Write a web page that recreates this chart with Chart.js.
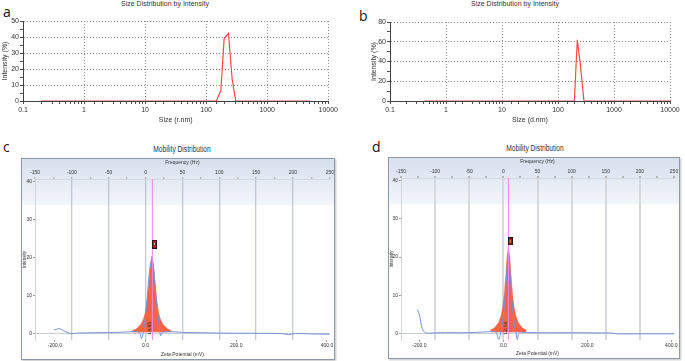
<!DOCTYPE html>
<html>
<head>
<meta charset="utf-8">
<script src="https://cdn.jsdelivr.net/npm/chart.js@4.4.1/dist/chart.umd.min.js"></script>
<style>
  body { margin: 0; width: 685px; height: 361px; background: #fff; position: relative; overflow: hidden; font-family: 'Liberation Sans', Arial, sans-serif; }
  .abs { position: absolute; }
  .letter { font-family: 'Open Sans', sans-serif; font-size: 14px; line-height: 14px; color: #111; }
  .dlsTitle { font-size: 7px; line-height: 8px; color: #333; text-align: center; width: 140px; }
  .mobTitle { font-family: 'Liberation Sans', Arial, sans-serif; font-size: 8.5px; line-height: 10px; color: #2b3344; text-align: center; width: 120px; transform: scaleX(0.78); }
  .frame { box-sizing: border-box; border: 1px solid #8d99aa; box-shadow: 1px 1px 2px rgba(0,0,0,0.25);
           background: linear-gradient(to bottom, #d7e0ee 0px, #e8edf5 28px, #f3f6fa 46px, #ffffff 47px); }
  canvas { position: absolute; }
</style>
</head>
<body>
<div class="abs letter" style="left:3px;top:5px">a</div>
<div class="abs letter" style="left:359px;top:9px">b</div>
<div class="abs letter" style="left:3px;top:140px">c</div>
<div class="abs letter" style="left:372px;top:140px">d</div>

<div class="abs dlsTitle" style="left:95px;top:0px">Size Distribution by Intensity</div>
<div class="abs dlsTitle" style="left:445px;top:0px">Size Distribution by Intensity</div>
<div class="abs mobTitle" style="left:122px;top:144px">Mobility Distribution</div>
<div class="abs mobTitle" style="left:475px;top:143px">Mobility Distribution</div>

<div class="abs frame" style="left:21px;top:158px;width:314px;height:202px"></div>
<div class="abs frame" style="left:388px;top:157px;width:292px;height:202px"></div>

<canvas id="chartA" width="340" height="130" style="left:0;top:0"></canvas>
<canvas id="chartB" width="340" height="130" style="left:345px;top:0"></canvas>
<canvas id="chartC" width="314" height="202" style="left:21px;top:158px"></canvas>
<canvas id="chartD" width="292" height="202" style="left:388px;top:157px"></canvas>

<script>
// ---- size distribution data (a: radius, b: diameter)
const sizeA = [0.2, 147, 174, 197, 232, 266, 305, 5000];
const intensityA = [0, 0, 6.5, 39, 42.3, 14, 0, 0];
const sizeB = [0.4, 196, 221, 247, 291, 10000];
const intensityB = [0, 0, 62, 40, 0, 0];

// ---- mobility distribution axes
const zetaMin = -243.75;
const zetaMax = 406.25;
const zetaTicks = [-200, 0, 200, 400];
const freqTicks = [-150, -125, -100, -75, -50, -25, 0, 25, 50, 75, 100, 125, 150, 175, 200, 225, 250];
const freqGrid = [-100, -50, 0, 50, 100, 150, 200];
const intensityTicks = [0, 10, 20, 30, 40];
const mobYMin = -1.6;
const mobYMax = 40.6;

// ---- c: fitted peak (red) and raw curve (blue)
const fitZetaC = [-30, -20, -10, -4, 0, 4, 8, 11, 14, 17, 20, 24, 28, 32, 38, 48, 56];
const fitIntC = [0.82, 1.34, 2.53, 4.1, 6.0, 9.2, 14.2, 18.5, 20.5, 18.5, 14.2, 9.2, 6.0, 4.1, 2.53, 1.34, 0.9];
const rawZetaC = [-202, -197, -190, -183, -175, -165, -150, -120, -80, -40, -20, -13, -9, -5, -2, 2, 6, 10, 14, 18, 22, 26, 30, 33, 36, 40, 50, 80, 120, 180, 250, 300, 315, 330, 360, 406];
const rawIntC = [1.0, 1.2, 1.4, 1.0, 0.5, 0.1, 0.2, 0.3, 0.35, 0.5, 0.6, 0.3, -1.2, 0.5, 3, 7.5, 13, 17.5, 19.5, 17, 11.5, 6.5, 2.5, -0.5, 0.2, 0.5, 0.6, 0.4, 0.3, 0.2, 0.15, 0.1, -0.2, 0.1, 0.0, -0.1];
const peakZetaC = 15;
const markerC = { x: 19.5, y: 23.5 };
const labelC = '14.95';

// ---- d: fitted peak (red) and raw curve (blue)
const fitZetaD = [-31, -21, -11, -5, -1, 3, 6, 9, 12, 15, 18, 21, 25, 29, 35, 45, 55];
const fitIntD = [0.95, 1.56, 2.99, 4.93, 7.3, 11.25, 15.6, 20.25, 22.5, 20.25, 15.6, 11.25, 7.3, 4.93, 2.99, 1.56, 0.95];
const rawZetaD = [-206, -203, -199, -195, -190, -184, -175, -150, -100, -60, -30, -18, -11, -6, -2, 2, 6, 9, 12, 15, 18, 22, 26, 30, 33, 37, 45, 80, 150, 220, 260, 270, 330, 406];
const rawIntD = [6.2, 6.0, 4.5, 2.0, 0.7, 0.2, 0.2, 0.3, 0.3, 0.4, 0.6, 0.5, -1.5, 0.5, 3, 7, 12.5, 17.5, 20.3, 17.5, 12.5, 6.5, 2.5, 0.2, -1.5, 0.3, 0.4, 0.3, 0.3, 0.25, 0.2, 0.0, 0.0, 0.0];
const peakZetaD = 12;
const markerD = { x: 16.5, y: 24.1 };
const labelD = '12.16';

Chart.defaults.font.family = "'Liberation Sans', Arial, sans-serif";
Chart.defaults.animation = false;

function toPoints(xs, ys) {
    return xs.map((x, i) => ({ x: x, y: ys[i] }));
}

function isDecade(v) {
    const e = Math.log10(v);
    return Math.abs(e - Math.round(e)) < 1e-9;
}

function sizeChart(id, sizes, values, xTitle, yMax, yStep, yLabelStep, pad, yWidth) {
    return new Chart(document.getElementById(id), {
        type: 'line',
        data: {
            datasets: [{
                data: toPoints(sizes, values),
                borderColor: 'rgb(255,72,72)',
                borderWidth: 1.2,
                pointRadius: 0,
                tension: 0,
                fill: false
            }]
        },
        options: {
            responsive: false,
            layout: { padding: pad },
            plugins: { legend: { display: false }, tooltip: { enabled: false } },
            scales: {
                x: {
                    type: 'logarithmic', min: 0.1, max: 10000,
                    afterFit: s => { s.height = 29; },
                    border: { color: '#404040', dash: [1, 2] },
                    grid: {
                        color: c => (c.tick && isDecade(c.tick.value)) ? '#8a8a8a' : 'rgba(0,0,0,0)',
                        tickColor: '#505050', tickLength: 3
                    },
                    ticks: {
                        autoSkip: false, maxRotation: 0, padding: 2, color: '#333', font: { size: 7 },
                        callback: v => isDecade(v) ? String(v) : ''
                    },
                    title: { display: true, text: xTitle, color: '#333', font: { size: 7 }, padding: { top: 0, bottom: 6 } }
                },
                y: {
                    min: 0, max: yMax,
                    afterFit: s => { s.width = yWidth; },
                    border: { color: '#404040', dash: [1, 2] },
                    grid: {
                        color: c => (c.tick && c.tick.value > 0 && c.tick.value % yLabelStep === 0) ? '#8a8a8a' : 'rgba(0,0,0,0)',
                        tickColor: '#505050', tickLength: 3
                    },
                    ticks: {
                        stepSize: yStep, autoSkip: false, padding: 1, color: '#333', font: { size: 7 },
                        callback: v => v % yLabelStep === 0 ? v : ''
                    },
                    title: { display: true, text: 'Intensity (%)', color: '#333', font: { size: 7 }, padding: { top: 1, bottom: 0 } }
                }
            }
        }
    });
}

sizeChart('chartA', sizeA, intensityA, 'Size (r.nm)', 50, 5, 10, { top: 21, right: 11, left: 0, bottom: 0 }, 23);
sizeChart('chartB', sizeB, intensityB, 'Size (d.nm)', 80, 10, 20, { top: 22, right: 15, left: 24, bottom: 0 }, 21);

// small red peak marker box
function markerImage(w, h) {
    const c = document.createElement('canvas');
    c.width = w; c.height = h;
    const g = c.getContext('2d');
    g.fillStyle = '#1a1a1a';
    g.fillRect(0, 0, w, h);
    g.fillStyle = '#d01414';
    g.fillRect(1, 1, w - 2, h - 2);
    g.fillStyle = '#f2b8b8';
    g.fillRect(Math.floor(w / 2), 3, 1, 2);
    return c;
}

// rotated peak value text next to the peak line
const peakLabel = {
    id: 'peakLabel',
    afterDatasetsDraw(chart, args, opts) {
        const { ctx, scales } = chart;
        const x = scales.x.getPixelForValue(opts.zeta) - 0.5;
        const y = scales.y.getPixelForValue(-0.2);
        ctx.save();
        ctx.translate(x, y);
        ctx.rotate(-Math.PI / 2);
        ctx.font = '4.5px "DejaVu Sans"';
        ctx.fillStyle = '#222';
        ctx.textBaseline = 'bottom';
        ctx.fillText(opts.text, 0, 0);
        ctx.restore();
    }
};

function mobilityChart(id, fitZeta, fitInt, rawZeta, rawInt, peakZeta, marker, label, dims) {
    return new Chart(document.getElementById(id), {
        type: 'line',
        data: {
            datasets: [
                {
                    data: toPoints(fitZeta, fitInt),
                    borderColor: 'rgb(246,98,68)', borderWidth: 0.5,
                    backgroundColor: 'rgb(246,98,68)',
                    fill: { value: 0.4 }, pointRadius: 0, tension: 0, order: 4
                },
                {
                    data: toPoints(rawZeta, rawInt),
                    borderColor: 'rgb(118,148,214)', borderWidth: 1,
                    pointRadius: 0, tension: 0.3, fill: false, order: 3
                },
                {
                    data: [{ x: peakZeta, y: mobYMin }, { x: peakZeta, y: mobYMax }],
                    borderColor: '#ee88ee', borderWidth: 1,
                    pointRadius: 0, fill: false, order: 2
                },
                {
                    data: [marker],
                    pointStyle: markerImage(dims.boxW, dims.boxH),
                    pointRadius: 4, showLine: false, order: 1
                }
            ]
        },
        plugins: [peakLabel],
        options: {
            responsive: false,
            layout: { padding: { left: 0, right: dims.right, top: 0, bottom: 0 } },
            plugins: {
                legend: { display: false }, tooltip: { enabled: false },
                peakLabel: { zeta: peakZeta, text: label }
            },
            scales: {
                x: {
                    type: 'linear', position: 'bottom', min: zetaMin, max: zetaMax,
                    afterFit: s => { s.height = dims.bottom; },
                    afterBuildTicks: s => { s.ticks = zetaTicks.map(v => ({ value: v })); },
                    border: { display: false },
                    grid: { drawOnChartArea: false, tickLength: 2, color: '#a0a0a0' },
                    ticks: { autoSkip: false, maxRotation: 0, padding: 1, color: '#333', font: { size: 5 }, callback: v => v.toFixed(1) },
                    title: { display: true, text: 'Zeta Potential (mV)', color: '#333', font: { size: 5 }, padding: { top: 0, bottom: 2 } }
                },
                freq: {
                    axis: 'x', type: 'linear', position: 'top', min: -150, max: 250,
                    afterFit: s => { s.height = 21; },
                    afterBuildTicks: s => { s.ticks = freqTicks.map(v => ({ value: v })); },
                    border: { color: '#d4d8e0' },
                    grid: {
                        color: c => (c.tick && freqGrid.includes(c.tick.value)) ? dims.gridColor : 'rgba(0,0,0,0)',
                        lineWidth: dims.gridWidth, tickColor: '#b4b4b4', tickLength: 2
                    },
                    ticks: { autoSkip: false, maxRotation: 0, padding: 1, color: '#333', font: { size: 5 }, callback: v => v % 50 === 0 ? v : '' },
                    title: { display: true, text: 'Frequency (Hz)', color: '#333', font: { size: 5 }, padding: { top: 2, bottom: 0 } }
                },
                y: {
                    min: mobYMin, max: mobYMax,
                    afterFit: s => { s.width = dims.left; },
                    afterBuildTicks: s => { s.ticks = intensityTicks.map(v => ({ value: v })); },
                    border: { color: '#d0d4dc' },
                    grid: {
                        color: c => (c.tick && c.tick.value === 0) ? '#c8ccd4' : 'rgba(0,0,0,0)',
                        tickColor: '#a0a0a0', tickLength: 2
                    },
                    ticks: { autoSkip: false, padding: 1, color: '#333', font: { size: 5 } },
                    title: { display: true, text: 'Intensity', color: '#333', font: { size: 4.5 }, padding: { top: 1, bottom: 0 } }
                }
            }
        }
    });
}

mobilityChart('chartC', fitZetaC, fitIntC, rawZetaC, rawIntC, peakZetaC, markerC, labelC,
    { left: 14, right: 3, bottom: 20, boxW: 5, boxH: 9, gridColor: 'rgba(172,178,196,0.7)', gridWidth: 1.3 });
mobilityChart('chartD', fitZetaD, fitIntD, rawZetaD, rawIntD, peakZetaD, markerD, labelD,
    { left: 13, right: 6, bottom: 19, boxW: 5, boxH: 8, gridColor: 'rgba(212,212,218,0.9)', gridWidth: 2 });
</script>
</body>
</html>
